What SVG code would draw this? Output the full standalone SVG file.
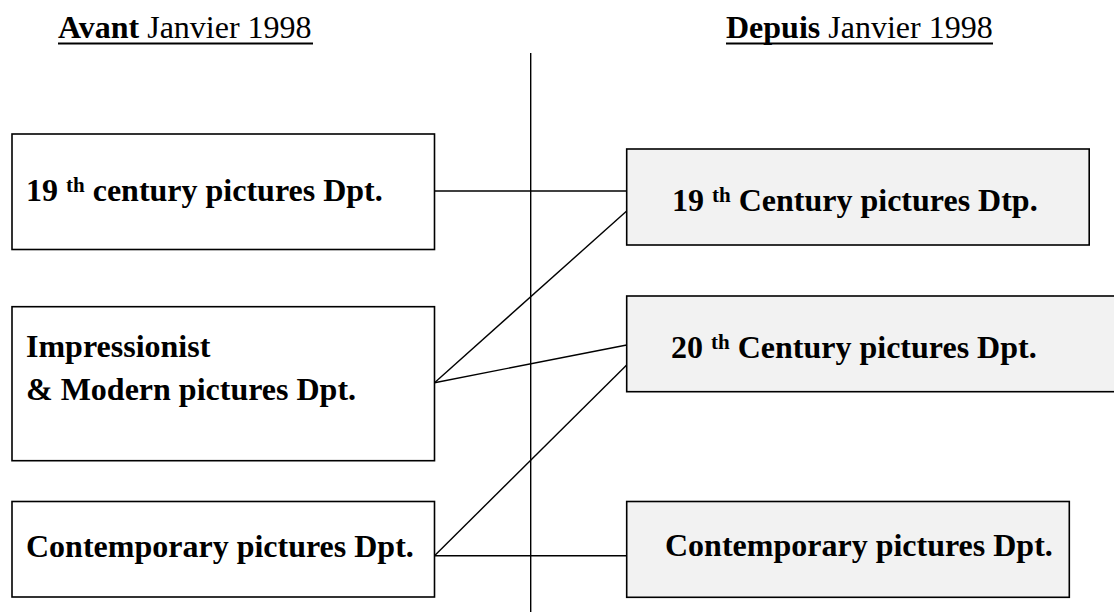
<svg xmlns="http://www.w3.org/2000/svg" width="1114" height="612" viewBox="0 0 1114 612">
<style>
text{font-family:"Liberation Serif","Times New Roman",serif;fill:#000}
.h{font-size:32px}
.b{font-weight:bold}
.t{font-size:32px;font-weight:bold}
.sup{font-size:21px}
.old{fill:#fff;stroke:#000;stroke-width:1.6}
.new{fill:#f2f2f2;stroke:#000;stroke-width:1.6}
.c line{stroke:#000;stroke-width:1.4}
</style>
<rect width="1114" height="612" fill="#fff"/>
<g id="header-avant">
<text class="h" x="58" y="37.5"><tspan class="b">Avant</tspan> Janvier 1998</text>
<line x1="58" y1="43.5" x2="313" y2="43.5" stroke="#000" stroke-width="2"/>
</g>
<g id="header-depuis">
<text class="h" x="726" y="37.5"><tspan class="b">Depuis</tspan> Janvier 1998</text>
<line x1="726" y1="43.5" x2="993" y2="43.5" stroke="#000" stroke-width="2"/>
</g>
<g id="divider"><line x1="530.7" y1="53" x2="530.7" y2="612" stroke="#000" stroke-width="1.4"/></g>
<g class="c" id="connectors">
<line x1="434.5" y1="191" x2="626.7" y2="191"/>
<line x1="434.5" y1="382.7" x2="626.7" y2="211"/>
<line x1="434.5" y1="382.7" x2="626.7" y2="345"/>
<line x1="434.5" y1="555.7" x2="626.7" y2="365"/>
<line x1="434.5" y1="555.7" x2="626.7" y2="555.7"/>
</g>
<g id="old-19th">
<rect class="old" x="12" y="134" width="422.5" height="115.5"/>
<text class="t" x="26" y="201">19 <tspan class="sup" dy="-9">th</tspan><tspan dy="9"> century pictures Dpt.</tspan></text>
</g>
<g id="old-impressionist">
<rect class="old" x="12" y="306.7" width="422.5" height="154"/>
<text class="t" x="26" y="357">Impressionist</text>
<text class="t" x="26" y="400">&amp; Modern pictures Dpt.</text>
</g>
<g id="old-contemporary">
<rect class="old" x="12" y="501.5" width="422.5" height="95.5"/>
<text class="t" x="26" y="557">Contemporary pictures Dpt.</text>
</g>
<g id="new-19th">
<rect class="new" x="626.7" y="149" width="462.5" height="96"/>
<text class="t" x="672" y="211">19 <tspan class="sup" dy="-9">th</tspan><tspan dy="9"> Century pictures Dtp.</tspan></text>
</g>
<g id="new-20th">
<rect class="new" x="626.7" y="296" width="490" height="95.7"/>
<text class="t" x="671" y="358">20 <tspan class="sup" dy="-9">th</tspan><tspan dy="9"> Century pictures Dpt.</tspan></text>
</g>
<g id="new-contemporary">
<rect class="new" x="626.7" y="501.5" width="442.6" height="95.8"/>
<text class="t" x="665" y="556">Contemporary pictures Dpt.</text>
</g>
</svg>
